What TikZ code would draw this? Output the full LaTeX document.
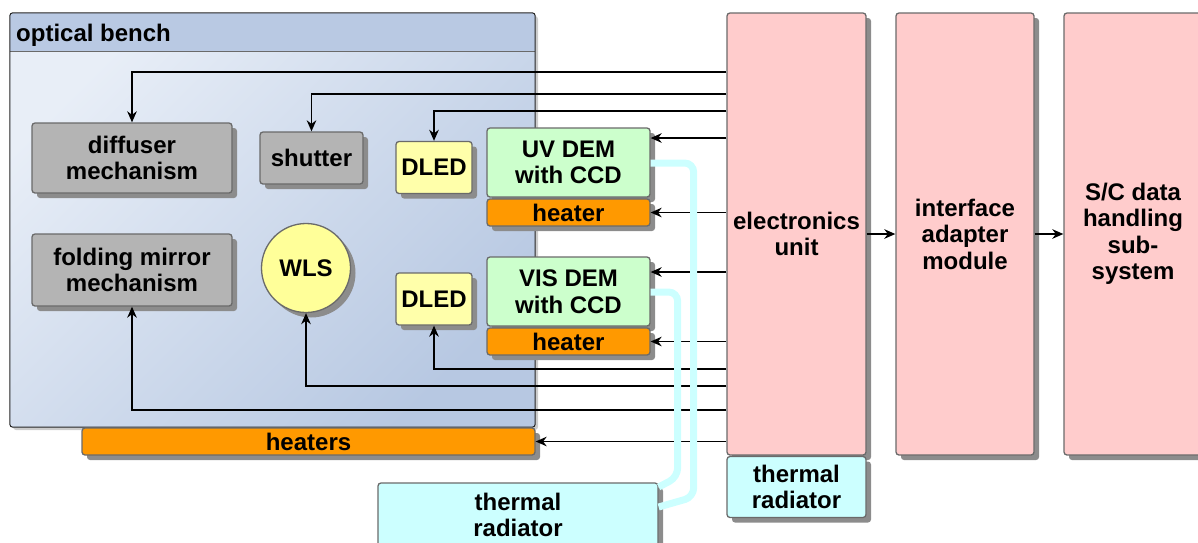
\documentclass[tikz,border=0pt]{standalone}
\usepackage{fontspec}
\setmainfont{Liberation Sans}
\usetikzlibrary{arrows.meta,shadows}

\definecolor{greybox}{HTML}{B4B4B4}
\definecolor{edgec}{HTML}{6A6A6A}
\definecolor{dledc}{HTML}{FFFFAA}
\definecolor{wlsc}{HTML}{FFFF99}
\definecolor{demc}{HTML}{CCFFCC}
\definecolor{heatc}{HTML}{FF9900}
\definecolor{pinkc}{HTML}{FFCCCC}
\definecolor{cyanc}{HTML}{CCFFFF}
\definecolor{benchhead}{HTML}{B9C9E3}
\definecolor{benchA}{HTML}{E8EEF7}
\definecolor{benchB}{HTML}{B7C8E2}
\definecolor{shadowc}{HTML}{8C8C8C}

\begin{document}
\begin{tikzpicture}[x=1pt,y=-1pt,
  font=\fontsize{24}{26.5}\selectfont\bfseries,
  box/.style={draw=edgec, line width=1.3pt, rounded corners=3pt, inner sep=0pt, align=center,
    drop shadow={shadow xshift=5pt, shadow yshift=-5pt, fill=shadowc, opacity=1}},
  greyb/.style={box, fill=greybox},
  dledb/.style={box, fill=dledc},
  demb/.style={box, fill=demc},
  heatb/.style={box, fill=heatc},
  pinkb/.style={box, fill=pinkc},
  cyanb/.style={box, fill=cyanc},
  conn/.style={draw=black, line width=1.8pt, -{Stealth[length=11pt,width=9.5pt,inset=3.5pt]}},
  cyanline/.style={draw=cyanc, line width=7pt, rounded corners=9pt},
]
\useasboundingbox (0,0) rectangle (1198,542);

% optical bench
\node[minimum width=525, minimum height=414, inner sep=0pt, rounded corners=3pt,
  left color=benchA, right color=benchB, shading angle=45,
  drop shadow={shadow xshift=3pt, shadow yshift=-3pt, opacity=0.2, fill=black}] (bench) at (272.5,220) {};
\fill[benchhead, rounded corners=3pt] (bench.north west) rectangle (bench.east |- 0,51);
\fill[benchhead] (bench.west |- 0,40) rectangle (bench.east |- 0,51);
\draw[edgec, line width=1pt] (bench.west |- 0,51) -- (bench.east |- 0,51);
\draw[black!85, line width=1pt, rounded corners=3pt] (bench.north west) rectangle (bench.south east);
\node[anchor=base west, inner sep=0pt] (benchtitle) at (16,41) {optical bench};

% components on the bench
\node[greyb, minimum width=200, minimum height=70] (diff) at (132,158) {diffuser\\mechanism};
\node[greyb, minimum width=103, minimum height=52] (shut) at (311.5,158) {shutter};
\node[dledb, minimum width=76, minimum height=52] (dled1) at (434,167.5) {DLED};
\node[demb, minimum width=163, minimum height=69] (uvdem) at (568.5,162.5) {UV DEM\\with CCD};
\node[heatb, minimum width=163, minimum height=27] (uvheat) at (568.5,212.5) {heater};
\node[demb, minimum width=163, minimum height=69] (visdem) at (568.5,291.5) {VIS DEM\\with CCD};
\node[heatb, minimum width=163, minimum height=27] (visheat) at (568.5,341.5) {heater};
\node[dledb, minimum width=76, minimum height=52] (dled2) at (434,299) {DLED};
\node[greyb, minimum width=200, minimum height=72] (fold) at (132,270) {folding mirror\\mechanism};
\node[box, circle, rounded corners=0pt, fill=wlsc, minimum size=89] (wls) at (306,268) {WLS};
\node[heatb, minimum width=453, minimum height=27] (heaters) at (308.5,441.5) {heaters};

% right hand blocks
\node[pinkb, minimum width=139, minimum height=442] (eu) at (796.5,234) {electronics\\unit};
\node[cyanb, minimum width=139, minimum height=61] (trad2) at (796.5,487) {thermal\\radiator};
\node[pinkb, minimum width=138, minimum height=442] (iam) at (965,234) {interface\\adapter\\module};
\node[pinkb, minimum width=138, minimum height=442] (sc) at (1133,234) {S/C data\\handling\\sub-\\system};
\node[cyanb, minimum width=280, minimum height=64] (trad) at (518,515) {thermal\\radiator};

% electronics unit connections
\draw[conn] (eu.west |- 0,72) -| (diff.north);
\draw[conn] (eu.west |- 0,94) -| (shut.north);
\draw[conn] (eu.west |- 0,111) -| (dled1.north);
\draw[conn] (eu.west |- 0,138) -- (uvdem.east |- 0,138);
\draw[conn] (eu.west |- uvheat.east) -- (uvheat.east);
\draw[conn] (eu.west |- 0,272) -- (visdem.east |- 0,272);
\draw[conn] (eu.west |- visheat.east) -- (visheat.east);
\draw[conn] (eu.west |- 0,369) -| (dled2.south);
\draw[conn] (eu.west |- 0,386) -| (wls.south);
\draw[conn] (eu.west |- 0,410) -| (fold.south);
\draw[conn] (eu.west |- heaters.east) -- (heaters.east);
\draw[conn] (eu.east) -- (iam.west);
\draw[conn] (iam.east) -- (sc.west);

% thermal links
\draw[cyanline] (uvdem.east |- 0,163) -- ++(43,0) -- ++(0,334) -- (trad.east |- 0,507);
\draw[cyanline] (visdem.east |- 0,292) -- ++(27,0) -- ++(0,185) -- (trad.east |- 0,487);
\end{tikzpicture}
\end{document}
